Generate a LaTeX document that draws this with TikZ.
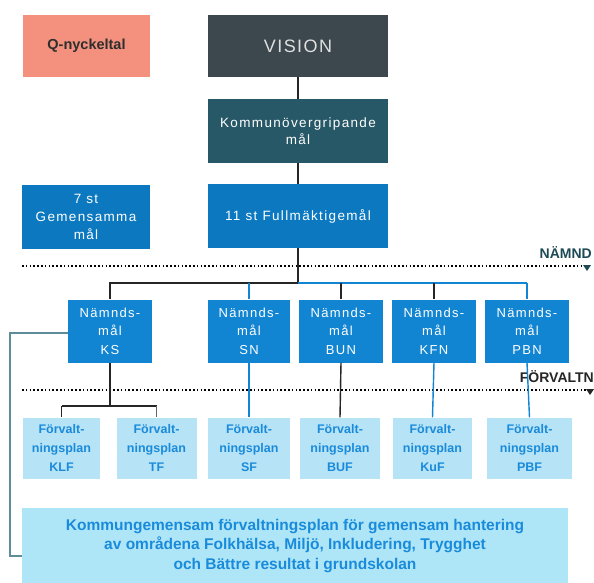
\documentclass[tikz,border=0pt]{standalone}
\usepackage{fontspec}
\setmainfont{Liberation Sans}
\definecolor{salmon}{HTML}{F3917E}
\definecolor{visioncol}{HTML}{3C484D}
\definecolor{kommcol}{HTML}{275867}
\definecolor{bluecol}{HTML}{0B78C0}
\definecolor{nbluecol}{HTML}{1285D2}
\definecolor{lightcol}{HTML}{B6E3F6}
\definecolor{ltext}{HTML}{1A8BDA}
\definecolor{bottomcol}{HTML}{AEE6F8}
\definecolor{labelcol}{HTML}{1E4A55}
\definecolor{leftline}{HTML}{5E8C99}
\newcommand{\spaced}{\addfontfeatures{LetterSpace=10}}
\begin{document}
\begin{tikzpicture}[x=1pt,y=-1pt,
  box/.style={draw=none,inner sep=1pt,align=center},
  darkbox/.style={box,text=white},
  nbox/.style={box,fill=nbluecol,text=white,minimum width=84pt,minimum height=63pt,font=\fontsize{13}{18.5}\selectfont\spaced},
  fbox/.style={box,fill=lightcol,text=ltext,minimum height=61pt,font=\bfseries\fontsize{12.5}{19}\selectfont},
  conn/.style={line width=1.4pt},
  divline/.style={line width=1.3pt,dash pattern=on 1.6pt off 2.2pt},
  lvl/.style={font=\bfseries\fontsize{14}{16}\selectfont,inner sep=0pt}
]
\useasboundingbox (0,0) rectangle (594,582);
\fill[white] (0,0) rectangle (594,582);

% top boxes
\node[box,fill=salmon,text=black!82,minimum width=127pt,minimum height=62pt,font=\bfseries\fontsize{14.5}{17}\selectfont] (q) at (86.5,46) {Q-nyckeltal};
\node[darkbox,fill=visioncol,minimum width=180pt,minimum height=62pt,font=\fontsize{18}{21}\selectfont\addfontfeatures{LetterSpace=8},text=white!88!black] (vision) at (298,46) {VISION};
\node[darkbox,fill=kommcol,minimum width=180pt,minimum height=64pt,font=\fontsize{13.5}{17}\selectfont\spaced] (komm) at (298,131) {Kommunövergripande\\mål};
\node[darkbox,fill=bluecol,minimum width=128pt,minimum height=64pt,font=\fontsize{13.5}{18}\selectfont\spaced] (gem) at (86,217) {7 st\\Gemensamma\\mål};
\node[darkbox,fill=bluecol,minimum width=180pt,minimum height=64pt,font=\fontsize{13.5}{17}\selectfont\spaced] (full) at (298,216) {11 st Fullmäktigemål};

% level lines
\coordinate (nL) at (22,266);
\coordinate (nR) at (590,266);
\coordinate (fL) at (22,390);
\coordinate (fR) at (590,390);
\draw[divline] (nL) -- (nR);
\draw[divline] (fL) -- (fR);
\node[lvl,text=labelcol,anchor=south east] (namnd) at (592,259) {NÄMND};
\node[lvl,text=black!85,anchor=south east] (forv) at (594,383) {FÖRVALTN};
\fill[labelcol] (583,265) -- (591,265) -- (587,271) -- cycle;
\fill[black!85] (586,389) -- (594,389) -- (590,395) -- cycle;

% Nämnds boxes
\node[nbox] (ks) at (110,331) {Nämnds-\\mål\\KS};
\node[nbox,minimum width=82pt] (sn) at (249,331) {Nämnds-\\mål\\SN};
\node[nbox] (bun) at (341,331) {Nämnds-\\mål\\BUN};
\node[nbox] (kfn) at (434,331) {Nämnds-\\mål\\KFN};
\node[nbox] (pbn) at (527,331) {Nämnds-\\mål\\PBN};

% Förvaltningsplan boxes
\node[fbox,minimum width=77pt] (klf) at (61.5,448) {Förvalt-\\ningsplan\\KLF};
\node[fbox,minimum width=80pt] (tf) at (156.5,448) {Förvalt-\\ningsplan\\TF};
\node[fbox,minimum width=82pt] (sf) at (249,448) {Förvalt-\\ningsplan\\SF};
\node[fbox,minimum width=80pt] (buf) at (340,448) {Förvalt-\\ningsplan\\BUF};
\node[fbox,minimum width=79pt] (kuf) at (432.5,448) {Förvalt-\\ningsplan\\KuF};
\node[fbox,minimum width=85pt] (pbf) at (529.5,448) {Förvalt-\\ningsplan\\PBF};

% bottom box
\node[box,fill=bottomcol,text=ltext,minimum width=546pt,minimum height=76pt,font=\bfseries\fontsize{15.5}{19.5}\selectfont] (bottom) at (295,546) {Kommungemensam förvaltningsplan för gemensam hantering\\av områdena Folkhälsa, Miljö, Inkludering, Trygghet\\och Bättre resultat i grundskolan};

% connectors top
\draw[conn,black!85] (vision) -- (komm);
\draw[conn,black!85] (komm) -- (full);
\coordinate (bus) at (298,283);
\draw[conn,black!85] (full.south) -- (bus);
\draw[conn,black!85] (ks.north) -- (ks.north |- bus) -- (bus);
\draw[conn,nbluecol] (bus) -- (pbn.north |- bus);
\draw[conn,nbluecol] (sn.north |- bus) -- (sn.north);
\draw[conn,black!85] (bun.north |- bus) -- (bun.north);
\draw[conn,black!85] (kfn.north |- bus) -- (kfn.north);
\draw[conn,nbluecol] (pbn.north |- bus) -- (pbn.north);

% KS to KLF/TF
\coordinate (split) at (110,406);
\draw[conn,black!85] (ks.south) -- (split);
\draw[conn,black!85] (klf.north |- split) -- (tf.north |- split);
\draw[conn,black!85] (klf.north |- split) -- (klf.north);
\draw[conn,black!60] (tf.north |- split) -- (tf.north);

% other vertical connectors
\draw[conn,nbluecol] (sn.south) -- (sf.north);
\draw[conn,black!85] (bun.south) -- (buf.north);
\draw[conn,nbluecol] (kfn.south) -- (kuf.north);
\draw[conn,nbluecol] (pbn.south) -- (pbf.north);

% left connector KS to bottom
\coordinate (lc1) at (10,333);
\coordinate (lc2) at (10,556);
\draw[line width=1.2pt,leftline] (ks.west |- lc1) -- (lc1) -- (lc2) -- (bottom.west |- lc2);
\end{tikzpicture}
\end{document}
